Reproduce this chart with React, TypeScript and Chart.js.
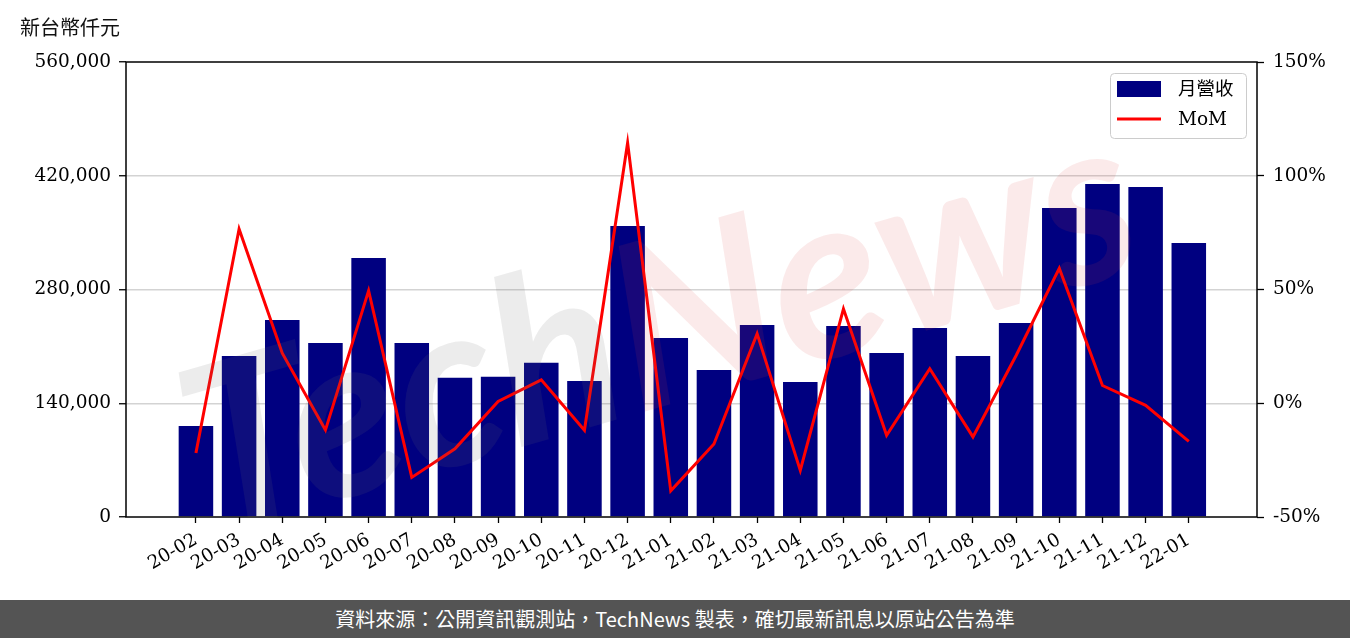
import React, { useEffect, useRef } from "react";
import { Chart, registerables } from "chart.js";

Chart.register(...registerables);

const months = [
  "20-02", "20-03", "20-04", "20-05", "20-06", "20-07", "20-08", "20-09", "20-10", "20-11", "20-12",
  "21-01", "21-02", "21-03", "21-04", "21-05", "21-06", "21-07", "21-08", "21-09", "21-10", "21-11", "21-12",
  "22-01",
];

const revenue = [
  112000, 198200, 242500, 214200, 318800, 214200, 171500, 172700, 190000, 167400, 358200,
  220300, 181000, 236400, 166200, 235100, 201900, 232700, 198200, 238800, 380400, 409900, 406200,
  337300,
];

const mom = [
  -21.9, 76.6, 22.0, -11.8, 49.5, -32.6, -20.0, 0.8, 10.3, -11.9, 114.5,
  -38.5, -17.9, 30.6, -29.5, 41.5, -14.1, 15.2, -14.8, 21.0, 59.3, 7.8, -0.9,
  -16.8,
];

const leftTicks = [0, 140000, 280000, 420000, 560000];
const rightTicks = [-50, 0, 50, 100, 150];

const unitLabel = "新台幣仟元";
const legendLabels = ["月營收", "MoM"];
const footerText = "資料來源：公開資訊觀測站，TechNews 製表，確切最新訊息以原站公告為準";
const watermarkParts = ["Tech", "News"];

const SERIF = "'DejaVu Serif', 'Noto Sans CJK TC', serif";
const SANS = "'Noto Sans CJK TC', 'Noto Sans', sans-serif";
const NAVY = "#000080";
const RED = "#ff0000";
const FS = 18.5;

const decorPlugin = {
  id: "decor",
  afterDatasetsDraw(chart: any) {
    const { ctx, chartArea } = chart;
    const { left, right, top, bottom } = chartArea;
    ctx.save();
    ctx.strokeStyle = "#000";
    ctx.lineWidth = 1.5;
    ctx.strokeRect(left, top, right - left, bottom - top);
    ctx.restore();

    ctx.save();
    ctx.beginPath();
    ctx.rect(left, top, right - left, bottom - top);
    ctx.clip();
    ctx.translate(660, 330);
    ctx.rotate(-0.28);
    ctx.font = "italic bold 230px Lato, 'DejaVu Sans', sans-serif";
    ctx.textBaseline = "middle";
    ctx.textAlign = "left";
    const w1 = ctx.measureText(watermarkParts[0]).width;
    const w2 = ctx.measureText(watermarkParts[1]).width;
    const startX = -(w1 + w2) / 2;
    ctx.fillStyle = "rgba(110,110,110,0.13)";
    ctx.fillText(watermarkParts[0], startX, 0);
    ctx.fillStyle = "rgba(220,60,60,0.11)";
    ctx.fillText(watermarkParts[1], startX + w1, 0);
    ctx.restore();
  },
  afterDraw(chart: any) {
    const { ctx, chartArea } = chart;
    ctx.save();
    ctx.font = `20px ${SANS}`;
    ctx.fillStyle = "#111";
    ctx.textAlign = "left";
    ctx.textBaseline = "middle";
    ctx.fillText(unitLabel, 20, 27);
    ctx.restore();

    const bx = chartArea.right - 147;
    const by = chartArea.top + 11;
    const bw = 136;
    const bh = 65;
    ctx.save();
    ctx.beginPath();
    if (ctx.roundRect) ctx.roundRect(bx + 0.5, by + 0.5, bw, bh, 4);
    else ctx.rect(bx + 0.5, by + 0.5, bw, bh);
    ctx.fillStyle = "rgba(255,255,255,0.8)";
    ctx.fill();
    ctx.strokeStyle = "#cccccc";
    ctx.lineWidth = 1;
    ctx.stroke();
    ctx.fillStyle = NAVY;
    ctx.fillRect(bx + 7, by + 8, 44, 16);
    ctx.strokeStyle = RED;
    ctx.lineWidth = 3;
    ctx.beginPath();
    ctx.moveTo(bx + 7, by + 46);
    ctx.lineTo(bx + 51, by + 46);
    ctx.stroke();
    ctx.fillStyle = "#000";
    ctx.textAlign = "left";
    ctx.textBaseline = "middle";
    ctx.font = `${FS}px ${SERIF}`;
    ctx.fillText(legendLabels[0], bx + 68, by + 17);
    ctx.fillText(legendLabels[1], bx + 68, by + 47);
    ctx.restore();
  },
};

export default function App() {
  const canvasRef = useRef<HTMLCanvasElement | null>(null);

  useEffect(() => {
    document.body.style.margin = "0";
    const canvas = canvasRef.current;
    if (!canvas) return;
    const chart = new Chart(canvas, {
      type: "bar",
      data: {
        datasets: [
          {
            type: "line",
            label: legendLabels[1],
            data: mom.map((v, i) => ({ x: i, y: v })),
            yAxisID: "y1",
            xAxisID: "x",
            borderColor: RED,
            borderWidth: 3,
            pointRadius: 0,
            tension: 0,
            fill: false,
            order: 1,
          } as any,
          {
            type: "bar",
            label: legendLabels[0],
            data: revenue.map((v, i) => ({ x: i, y: v })),
            yAxisID: "y",
            xAxisID: "x",
            backgroundColor: NAVY,
            borderWidth: 0,
            barPercentage: 0.8,
            categoryPercentage: 1,
            order: 2,
          } as any,
        ],
      },
      options: {
        animation: false,
        responsive: false,
        maintainAspectRatio: false,
        events: [],
        layout: { padding: { top: 62, left: 0, right: 0, bottom: 0 } },
        plugins: {
          legend: { display: false },
          tooltip: { enabled: false },
          title: { display: false },
        },
        scales: {
          x: {
            type: "linear",
            offset: false,
            min: -1.62,
            max: 24.58,
            afterBuildTicks: (scale: any) => {
              scale.ticks = months.map((_, i) => ({ value: i }));
            },
            afterFit: (scale: any) => {
              scale.height = 83;
            },
            ticks: {
              autoSkip: false,
              maxRotation: 30,
              minRotation: 30,
              padding: 6,
              color: "#000",
              font: { family: SERIF, size: FS },
              callback: (v: any) => months[Math.round(Number(v))] ?? "",
            },
            grid: {
              offset: false,
              drawOnChartArea: false,
              drawTicks: true,
              tickLength: 6,
              tickColor: "#000",
              tickWidth: 1.3,
            },
            border: { display: false },
          },
          y: {
            type: "linear",
            position: "left",
            min: leftTicks[0],
            max: leftTicks[leftTicks.length - 1],
            afterBuildTicks: (scale: any) => {
              scale.ticks = leftTicks.map((v) => ({ value: v }));
            },
            afterFit: (scale: any) => {
              scale.width = 126;
            },
            ticks: {
              padding: 8,
              color: "#000",
              font: { family: SERIF, size: FS },
              callback: (v: any) => Number(v).toLocaleString("en-US"),
            },
            grid: {
              drawOnChartArea: true,
              color: (c: any) =>
                c.tick && (c.tick.value === leftTicks[0] || c.tick.value === leftTicks[leftTicks.length - 1])
                  ? "rgba(0,0,0,0)"
                  : "#d3d3d3",
              lineWidth: 1.5,
              tickLength: 7,
              tickColor: "#000",
              tickWidth: 1.3,
            },
            border: { display: false },
          },
          y1: {
            type: "linear",
            position: "right",
            min: rightTicks[0],
            max: rightTicks[rightTicks.length - 1],
            afterBuildTicks: (scale: any) => {
              scale.ticks = rightTicks.map((v) => ({ value: v }));
            },
            afterFit: (scale: any) => {
              scale.width = 93;
            },
            ticks: {
              padding: 9,
              color: "#000",
              font: { family: SERIF, size: FS },
              callback: (v: any) => `${v}%`,
            },
            grid: {
              drawOnChartArea: false,
              tickLength: 7,
              tickColor: "#000",
              tickWidth: 1.3,
            },
            border: { display: false },
          },
        },
      },
      plugins: [decorPlugin],
    });
    return () => chart.destroy();
  }, []);

  return (
    <div style={{ position: "relative", width: 1350, height: 638, background: "#fff", overflow: "hidden" }}>
      <canvas ref={canvasRef} width={1350} height={600} style={{ display: "block", width: 1350, height: 600 }} />
      <div
        lang="zh-TW"
        style={{
          position: "absolute",
          left: 0,
          top: 600,
          width: 1350,
          height: 38,
          background: "#545454",
          color: "#fff",
          fontFamily: SANS,
          fontSize: 20,
          lineHeight: "38px",
          textAlign: "center",
        }}
      >
        {footerText}
      </div>
    </div>
  );
}
